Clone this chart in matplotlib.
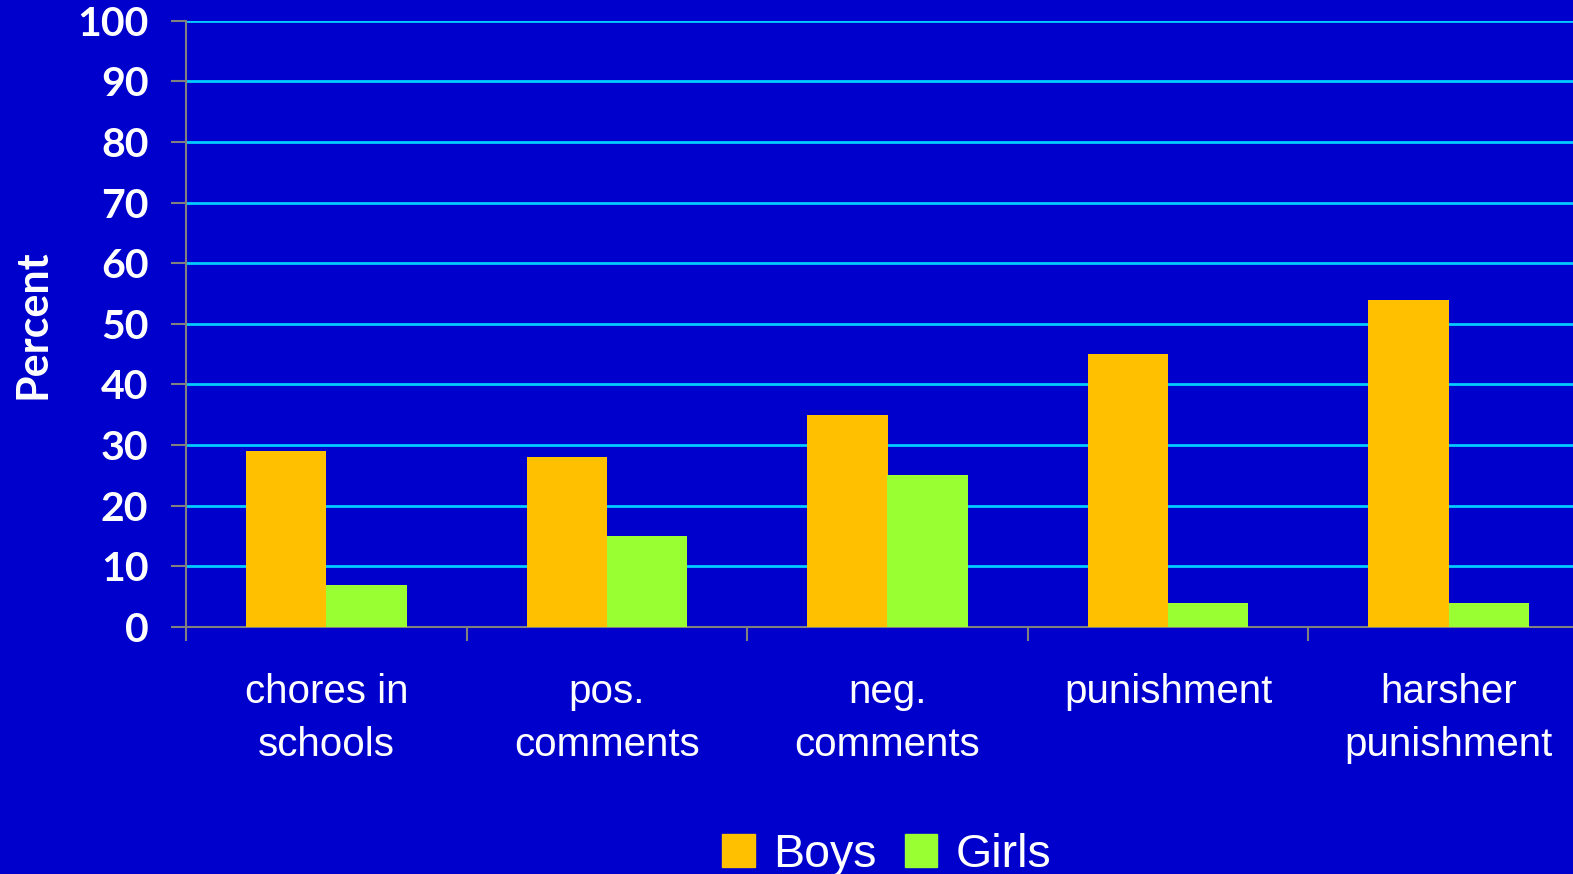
import matplotlib.pyplot as plt
from matplotlib.patches import Patch

categories = ["chores in\nschools", "pos.\ncomments", "neg.\ncomments", "punishment", "harsher\npunishment"]
boys = [29, 28, 35, 45, 54]
girls = [7, 15, 25, 4, 4]
yticks = [0, 10, 20, 30, 40, 50, 60, 70, 80, 90, 100]

bg = "#0000CC"
orange = "#FFC000"
green = "#99FF33"
grey = "#808080"

fig = plt.figure(figsize=(15.73, 8.74), dpi=100, facecolor=bg)
ax = fig.add_axes([186 / 1573, 247 / 874, 1403 / 1573, 606.3 / 874])
ax.set_facecolor(bg)

w = 0.286
x = list(range(len(categories)))
ax.bar([i - w / 2 for i in x], boys, width=w, color=orange, zorder=3)
ax.bar([i + w / 2 for i in x], girls, width=w, color=green, zorder=3)

ax.set_xlim(-0.5, len(categories) - 0.5)
ax.set_ylim(0, 100)
ax.set_yticks(yticks)
ax.yaxis.grid(True, color="#00CCFF", linewidth=2, zorder=1)
ax.set_axisbelow(True)

for s in ["top", "right"]:
    ax.spines[s].set_visible(False)
for s in ["left", "bottom"]:
    ax.spines[s].set_color(grey)
    ax.spines[s].set_linewidth(1.5)

ax.tick_params(axis="y", colors=grey, length=11, width=1.5, pad=16)
for lbl in ax.get_yticklabels():
    lbl.set_color("white")
    lbl.set_fontsize(29.5)
    lbl.set_fontweight("bold")
    lbl.set_fontfamily("Lato")

# category boundaries get the tick marks, names sit on minor ticks
ax.set_xticks([i - 0.5 for i in range(len(categories) + 1)])
ax.set_xticklabels([])
ax.tick_params(axis="x", which="major", colors=grey, length=10, width=1.5)
ax.set_xticks(x, minor=True)
ax.set_xticklabels(categories, minor=True, color="white", fontsize=29,
                   fontfamily="Liberation Sans", linespacing=1.5)
ax.tick_params(axis="x", which="minor", length=0, pad=33)

ax.set_ylabel("Percent", color="white", fontsize=31, fontweight="bold",
              fontfamily="Lato", labelpad=18)

handles = [Patch(color=orange, label="Boys"), Patch(color=green, label="Girls")]
leg = fig.legend(handles=handles, loc="center", bbox_to_anchor=(887 / 1573, 1 - 855 / 874),
                 ncol=2, frameon=False, handlelength=0.7, handleheight=0.7,
                 handletextpad=0.4, columnspacing=0.6,
                 prop={"family": "Liberation Sans", "size": 33.5})
for t in leg.get_texts():
    t.set_color("white")

fig.savefig("out.png", dpi=100, facecolor=bg)
